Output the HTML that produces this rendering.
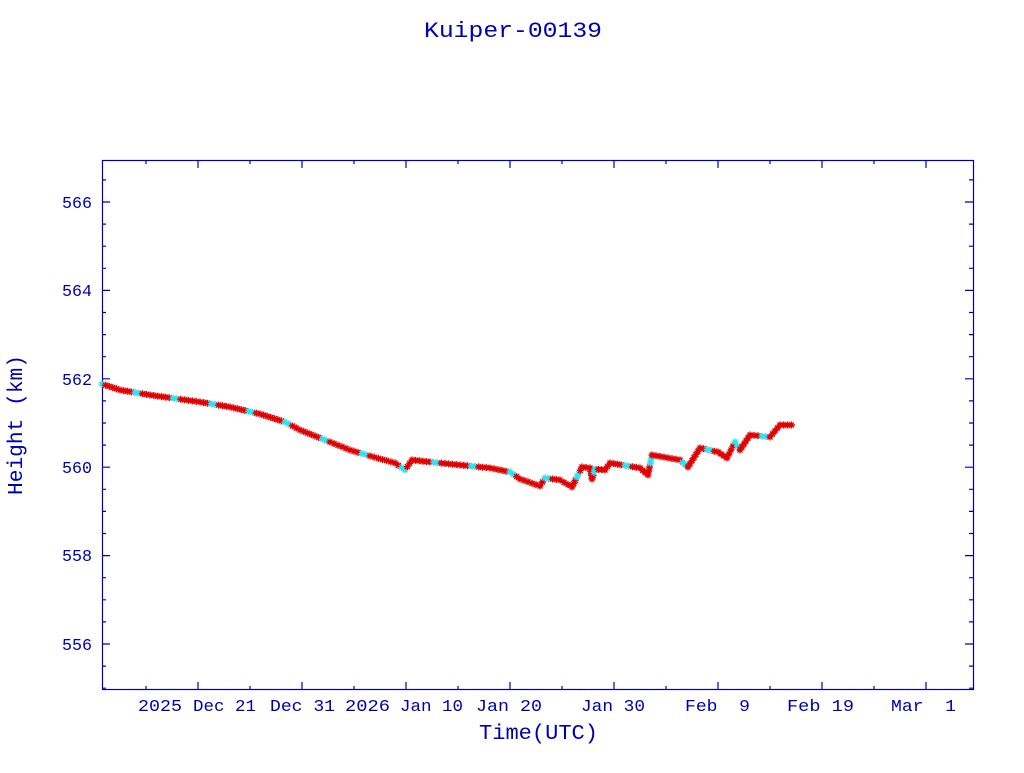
<!DOCTYPE html>
<html><head><meta charset="utf-8"><style>
body{margin:0;background:#fff;width:1024px;height:768px;overflow:hidden}
svg text{font-family:"Liberation Mono",monospace;fill:#0000b0}
</style></head><body>
<svg id="s" width="1024" height="768" xmlns="http://www.w3.org/2000/svg">
<text x="424" y="37" font-size="22" textLength="178" lengthAdjust="spacingAndGlyphs">Kuiper-00139</text>
<rect x="102.5" y="160.5" width="871" height="529" fill="none" stroke="#0000b0" stroke-width="1.2"/>
<g id="ticks" stroke="#0000b0" stroke-width="1.2"></g>
<g font-size="17">
<text x="62" y="208" textLength="30" lengthAdjust="spacingAndGlyphs">566</text>
<text x="62" y="296" textLength="30" lengthAdjust="spacingAndGlyphs">564</text>
<text x="62" y="385" textLength="30" lengthAdjust="spacingAndGlyphs">562</text>
<text x="62" y="473" textLength="30" lengthAdjust="spacingAndGlyphs">560</text>
<text x="62" y="561" textLength="30" lengthAdjust="spacingAndGlyphs">558</text>
<text x="62" y="650" textLength="30" lengthAdjust="spacingAndGlyphs">556</text>
<text x="138" y="711" textLength="44" lengthAdjust="spacingAndGlyphs">2025</text>
<text x="193" y="711" textLength="63" lengthAdjust="spacingAndGlyphs">Dec 21</text>
<text x="270" y="711" textLength="65" lengthAdjust="spacingAndGlyphs">Dec 31</text>
<text x="345" y="711" textLength="45" lengthAdjust="spacingAndGlyphs">2026</text>
<text x="400" y="711" textLength="63" lengthAdjust="spacingAndGlyphs">Jan 10</text>
<text x="476" y="711" textLength="66" lengthAdjust="spacingAndGlyphs">Jan 20</text>
<text x="581" y="711" textLength="64" lengthAdjust="spacingAndGlyphs">Jan 30</text>
<text x="685" y="711" xml:space="preserve" textLength="65" lengthAdjust="spacingAndGlyphs">Feb  9</text>
<text x="787" y="711" textLength="67" lengthAdjust="spacingAndGlyphs">Feb 19</text>
<text x="891" y="711" xml:space="preserve" textLength="65" lengthAdjust="spacingAndGlyphs">Mar  1</text>
</g>
<text x="479" y="739" font-size="21" textLength="119" lengthAdjust="spacingAndGlyphs">Time(UTC)</text>
<text transform="translate(22,495) rotate(-90)" font-size="21" textLength="140" lengthAdjust="spacingAndGlyphs">Height (km)</text>
<polyline id="line" fill="none" stroke="#000080" stroke-width="1"/>
<g id="m"></g>
</svg>
<script>
var ns="http://www.w3.org/2000/svg",t=document.getElementById('ticks'),d='';
for(var i=0;i<9;i++){var x=198+104*i;if(x<973)d+='M'+x+' 690v-8M'+x+' 160v8';}
for(var i=0;i<9;i++){var x=146+104*i;if(x<973)d+='M'+x+' 690v-4M'+x+' 160v4';}
for(var v=555;v<=567;v+=0.5){var y=644-(v-556)*44.2;if(y<161||y>689)continue;var L=(v%2==0)?8:4;d+='M102 '+y+'h'+L+'M973 '+y+'h-'+L;}
var p=document.createElementNS(ns,'path');p.setAttribute('d',d);t.appendChild(p);
var P=[[102,384],[120,390],[150,395],[200,402],[230,407],[260,414],[285,422],[300,430],[330,442],[350,450],[370,456],[395,463],[405,470],[412,460],[430,462],[460,465],[490,468],[510,472],[520,479],[540,486],[545,478],[560,480],[572,487],[582,467],[590,468],[592,479],[595,469],[605,470],[610,463],[640,468],[648,475],[652,455],[680,460],[688,467],[700,448],[718,452],[727,458],[735,442],[740,450],[750,435],[770,437],[780,425],[795,425]];
document.getElementById('line').setAttribute('points',P.map(function(a){return a.join(',')}).join(' '));
var m=document.getElementById('m'),k=0;
for(var j=0;j<P.length-1;j++){var a=P[j],b=P[j+1],len=Math.hypot(b[0]-a[0],b[1]-a[1]),n=Math.max(1,Math.round(len/4));
for(var s=0;s<n;s++){var x=a[0]+(b[0]-a[0])*s/n,y=a[1]+(b[1]-a[1])*s/n;k++;
var c=(k%10<2)?'#30e0f0':'#e00000';
var g=document.createElementNS(ns,'path');g.setAttribute('d','M'+(x-3.5)+' '+y+'h7M'+x+' '+(y-3.5)+'v7M'+(x-2.5)+' '+(y-2.5)+'l5 5M'+(x+2.5)+' '+(y-2.5)+'l-5 5');
g.setAttribute('stroke',c);g.setAttribute('stroke-width','1.4');m.appendChild(g);}}
</script>
</body></html>
